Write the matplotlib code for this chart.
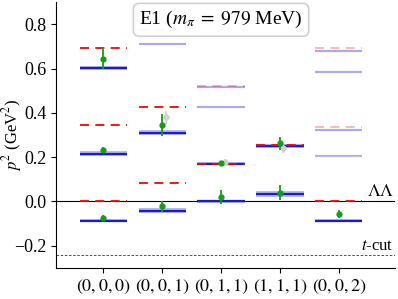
import numpy as np
import matplotlib
matplotlib.use("Agg")
import matplotlib.pyplot as plt

plt.rcParams['font.family'] = 'serif'
plt.rcParams['font.serif'] = ['Liberation Serif', 'DejaVu Serif']
plt.rcParams['mathtext.fontset'] = 'stix'
plt.rcParams['font.size'] = 13

## momentum frames
frames = ['(0,0,0)', '(0,0,1)', '(0,1,1)', '(1,1,1)', '(0,0,2)']

# fitted levels (blue): frame index, p^2, error, faint?
fit_frame = [0, 0, 0, 1, 1, 1, 2, 2, 2, 2, 3, 3, 4, 4, 4, 4, 4]
fit_val = [0.603, 0.216, -0.086, 0.712, 0.311, -0.041, 0.516, 0.425, 0.171, 0.0,
           0.250, 0.034, 0.680, 0.586, 0.324, 0.207, -0.086]
fit_err = [0.010, 0.012, 0.008, 0.005, 0.012, 0.010, 0.004, 0.004, 0.006, 0.006,
           0.008, 0.014, 0.004, 0.004, 0.004, 0.004, 0.006]
fit_faint = [0, 0, 0, 1, 0, 0, 1, 1, 0, 0, 0, 0, 1, 1, 1, 1, 0]

# non-interacting levels (red dashed)
free_frame = [0, 0, 0, 1, 1, 1, 2, 2, 3, 4, 4, 4]
free_val = [0.694, 0.347, 0.0, 0.775, 0.428, 0.085, 0.519, 0.171, 0.255,
            0.692, 0.338, 0.0]
free_faint = [0, 0, 0, 1, 0, 0, 1, 0, 0, 1, 1, 0]

# lattice energies (green)
pt_frame = [0, 0, 0, 1, 1, 2, 2, 3, 3, 4]
pt_val = [0.645, 0.232, -0.075, 0.345, -0.022, 0.172, 0.020, 0.262, 0.040, -0.058]
pt_err = [0.048, 0.015, 0.015, 0.048, 0.025, 0.012, 0.030, 0.030, 0.035, 0.018]

# other operator basis (grey, offset)
alt_frame = [1, 2, 3]
alt_val = [0.380, 0.180, 0.240]
alt_err = [0.030, 0.012, 0.020]

fig = plt.figure(figsize=(3.98, 2.99), dpi=100)
ax = fig.add_axes([0.141, 0.104, 0.851, 0.889])

hw = 0.4
for f, v, e, fa in zip(fit_frame, fit_val, fit_err, fit_faint):
    a = 0.3 if fa else 1.0
    ax.fill_between([f - hw, f + hw], v - e, v + e, color='#b8bcf0', alpha=a, lw=0)
    ax.hlines(v, f - hw, f + hw, color='#1a1ad0', lw=1.6, alpha=a)

for f, v, fa in zip(free_frame, free_val, free_faint):
    a = 0.3 if fa else 1.0
    ax.hlines(v, f - hw, f + hw, color='red', lw=1.3, ls=(0, (5, 3.5)), alpha=a)

ax.axhline(0, color='k', lw=0.8, zorder=1)
ax.axhline(-0.242, color='k', lw=0.6, ls=(0, (3, 2)), alpha=0.8)

ax.errorbar(np.array(alt_frame) + 0.06, alt_val, yerr=alt_err, fmt='o', ms=3.5,
            color='#d0d0d0', elinewidth=1.3, zorder=3)
ax.errorbar(pt_frame, pt_val, yerr=pt_err, fmt='o', ms=3.5, color='#10a010',
            elinewidth=1.3, zorder=4)

ax.text(4.93, 0.005, r'$\Lambda\Lambda$', ha='right', va='bottom', fontsize=13)
ax.text(4.93, -0.237, r'$t$-cut', ha='right', va='bottom', fontsize=12)

ax.text(2.0, 0.82, r'E1 ($m_\pi\;=\;979$ MeV)', ha='center', va='center', fontsize=14,
        bbox=dict(boxstyle='round,pad=0.3', fc='white', ec='#cccccc', lw=1.2, alpha=0.9))

ax.set_xlim(-0.8, 4.95)
ax.set_ylim(-0.3, 0.9)
ax.set_xticks(range(len(frames)))
ax.set_xticklabels([r'$%s$' % s for s in frames])
ax.set_yticks([-0.2, 0.0, 0.2, 0.4, 0.6, 0.8])
ax.set_ylabel(r'$p^2$ (GeV$^2$)', fontsize=12)
ax.yaxis.set_label_coords(-0.095, 0.5)
ax.spines['top'].set_visible(False)
ax.spines['right'].set_visible(False)

fig.savefig('out.png', dpi=100)
